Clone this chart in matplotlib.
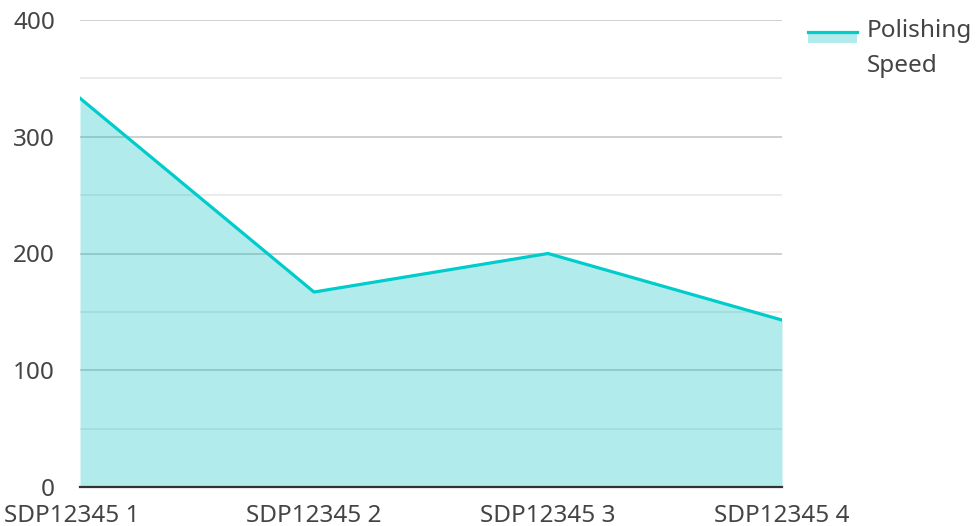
import matplotlib.pyplot as plt
import matplotlib.patches as mpatches
import matplotlib.transforms as mtransforms
from matplotlib.lines import Line2D
from matplotlib.ticker import MultipleLocator

# данные
categories = ['SDP12345 1', 'SDP12345 2', 'SDP12345 3', 'SDP12345 4']
speed = [333, 167, 200, 143]
series_name = 'Polishing\nSpeed'

line_color = '#00cccc'
fill_color = '#00c0c0'
fill_alpha = 0.3
text_color = '#444444'
fs = 17.5

plt.rcParams['font.family'] = ['Noto Sans', 'DejaVu Sans']

fig = plt.figure(figsize=(9.76, 5.26), dpi=100)
ax = fig.add_axes([80 / 976, 39 / 526, 702 / 976, 467 / 526])

x = list(range(len(categories)))
ax.fill_between(x, speed, 0, color=fill_color, alpha=fill_alpha, linewidth=0, zorder=2)
ax.plot(x, speed, color=line_color, linewidth=2.3, zorder=3)

ax.set_xlim(0, len(categories) - 1)
ax.set_ylim(0, 400)
ax.yaxis.set_major_locator(MultipleLocator(100))
ax.yaxis.set_minor_locator(MultipleLocator(50))
ax.grid(True, which='major', axis='y', color='#c8c8c8', linewidth=1.2, zorder=1)
ax.grid(True, which='minor', axis='y', color='#e8e8e8', linewidth=1.2, zorder=1)
ax.set_axisbelow(True)

ax.set_xticks(x)
ax.set_xticklabels(categories)
ax.tick_params(axis='both', which='both', length=0, labelsize=fs, labelcolor=text_color)
ax.tick_params(axis='y', pad=18)
ax.tick_params(axis='x', pad=12)

# первая подпись сдвинута, чтобы влезть в рисунок
first = ax.get_xticklabels()[0]
first.set_transform(first.get_transform() + mtransforms.ScaledTranslation(-8 / 100, 0, fig.dpi_scale_trans))

for s in ['top', 'right', 'left']:
    ax.spines[s].set_visible(False)
ax.spines['bottom'].set_color('#333333')
ax.spines['bottom'].set_linewidth(1.6)
ax.spines['bottom'].set_zorder(4)

# легенда вручную
W, H = 976, 526
fig.patches.append(mpatches.Rectangle((808 / W, 1 - 43 / H), 49 / W, 12 / H,
                                      transform=fig.transFigure, color=fill_color,
                                      alpha=fill_alpha, linewidth=0))
fig.lines.append(Line2D([808 / W, 857 / W], [1 - 32 / H, 1 - 32 / H],
                        transform=fig.transFigure, color=line_color, linewidth=2.3))
fig.text(867 / W, 1 - 19 / H, series_name, fontsize=fs, color=text_color,
         va='top', ha='left', linespacing=1.6)

fig.savefig('out.png', dpi=100)
